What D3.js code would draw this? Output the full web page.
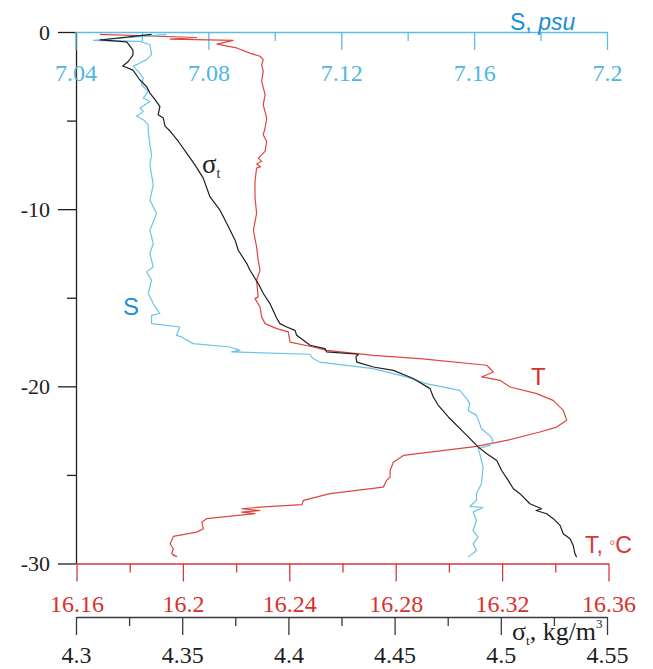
<!DOCTYPE html>
<html>
<head>
<meta charset="utf-8">
<script src="https://cdn.jsdelivr.net/npm/d3@7"></script>
<style>
  html, body { margin: 0; padding: 0; background: #fff; }
  svg { display: block; }
</style>
</head>
<body>
<svg id="chart" width="653" height="669"></svg>
<script>
// Depth profile: salinity, temperature and density (sigma-t) against depth.

// Tick values
const depthTicks = [0, -10, -20, -30];
const depthMinorTicks = [-5, -15, -25];
const salinityTicks = [7.04, 7.08, 7.12, 7.16, 7.2];
const salinityMinorTicks = [7.06, 7.10, 7.14, 7.18];
const tempTicks = [16.16, 16.2, 16.24, 16.28, 16.32, 16.36];
const tempMinorTicks = [16.18, 16.22, 16.26, 16.30, 16.34];
const sigmaTicks = [4.3, 4.35, 4.4, 4.45, 4.5, 4.55];
const sigmaMinorTicks = [4.325, 4.375, 4.425, 4.475, 4.525];

// Sigma-t profile (kg/m3)
const sigmaDepth = [-0.13,-0.45,-0.56,-1.02,-1.30,-1.68,-1.92,-2.15,-2.71,-3.09,
  -3.45,-3.82,-4.20,-4.67,-4.86,-5.31,-5.59,-6.18,-6.84,-7.50,
  -8.25,-9.31,-10.06,-10.81,-11.75,-12.32,-13.07,-13.45,-14.20,-14.76,
  -15.33,-16.16,-16.46,-16.65,-16.84,-17.12,-17.68,-17.87,-18.06,-18.19,
  -18.34,-18.63,-18.91,-19.10,-19.56,-20.13,-20.60,-21.07,-21.73,-22.39,
  -22.95,-23.43,-23.80,-24.18,-24.75,-25.31,-25.78,-26.06,-26.63,-26.91,
  -27.01,-27.19,-27.47,-27.85,-28.32,-28.60,-28.98,-29.45,-29.64];
const sigmaValues = [4.3356,4.3113,4.3239,4.3268,4.3268,4.3245,4.3220,4.3268,4.3301,4.3333,
  4.3348,4.3372,4.3395,4.3387,4.3411,4.3419,4.3443,4.3482,4.3521,4.3560,
  4.3599,4.3631,4.3678,4.3710,4.3749,4.3764,4.3804,4.3819,4.3858,4.3882,
  4.3913,4.3945,4.3960,4.3992,4.4031,4.4039,4.4102,4.4172,4.4180,4.4329,
  4.4318,4.4322,4.4400,4.4494,4.4588,4.4667,4.4682,4.4706,4.4753,4.4808,
  4.4855,4.4894,4.4934,4.4981,4.5004,4.5035,4.5059,4.5090,4.5137,4.5192,
  4.5166,4.5216,4.5247,4.5279,4.5294,4.5326,4.5341,4.5349,4.5357];

// Salinity profile (psu)
const salinityDepth = [-0.13,-0.47,-0.53,-0.72,-1.28,-1.56,-1.75,-1.94,-2.22,-2.60,
  -2.98,-3.35,-3.73,-3.92,-4.29,-4.48,-4.76,-4.95,-5.24,-5.61,
  -6.37,-6.93,-7.50,-8.06,-8.63,-9.49,-10.24,-11.19,-11.94,-12.50,
  -13.26,-13.54,-14.01,-14.76,-15.33,-15.89,-15.99,-16.46,-16.65,-17.12,
  -17.21,-17.59,-17.78,-17.97,-18.06,-18.19,-18.43,-18.63,-19.00,-19.47,
  -19.85,-20.23,-20.69,-20.98,-21.36,-21.64,-22.11,-22.39,-22.77,-23.05,
  -23.33,-23.52,-23.80,-24.56,-25.50,-26.06,-26.44,-26.78,-26.84,-27.10,
  -27.57,-28.14,-28.51,-28.89,-29.27,-29.64];
const salinityValues = [7.0674,7.0454,7.0594,7.0624,7.0629,7.0614,7.0594,7.0574,7.0589,7.0604,
  7.0599,7.0619,7.0604,7.0624,7.0594,7.0604,7.0584,7.0604,7.0619,7.0619,
  7.0624,7.0629,7.0624,7.0629,7.0634,7.0624,7.0644,7.0624,7.0634,7.0624,
  7.0634,7.0614,7.0629,7.0619,7.0634,7.0654,7.0629,7.0629,7.0714,7.0704,
  7.0719,7.0754,7.0865,7.0895,7.0870,7.1105,7.1115,7.1135,7.1296,7.1396,
  7.1456,7.1557,7.1577,7.1587,7.1582,7.1607,7.1617,7.1622,7.1647,7.1657,
  7.1647,7.1612,7.1617,7.1627,7.1622,7.1607,7.1607,7.1587,7.1627,7.1597,
  7.1607,7.1597,7.1612,7.1597,7.1607,7.1582];

// Temperature profile (deg C)
const tempDepth = [-0.13,-0.31,-0.40,-0.47,-0.68,-0.90,-1.19,-1.37,-1.56,-1.85,
  -2.22,-2.79,-3.54,-4.11,-4.86,-5.42,-5.80,-6.18,-6.74,-7.12,
  -7.30,-7.45,-7.60,-7.68,-8.44,-9.31,-10.24,-11.19,-12.13,-12.88,
  -13.45,-14.01,-14.95,-15.05,-15.52,-16.08,-16.46,-16.74,-16.93,-17.50,
  -17.78,-17.97,-18.25,-18.44,-18.81,-19.19,-19.47,-19.66,-20.04,-20.41,
  -20.79,-21.36,-21.92,-22.30,-22.58,-23.05,-23.39,-23.90,-24.28,-24.75,
  -25.12,-25.31,-25.69,-26.06,-26.44,-26.68,-26.82,-26.91,-27.01,-27.10,
  -27.19,-27.47,-27.67,-28.04,-28.23,-28.47,-28.70,-28.89,-29.17,-29.45,
  -29.60,-29.55];
const tempValues = [16.1688,16.2052,16.1952,16.2189,16.2128,16.2202,16.2252,16.2290,16.2302,16.2296,
  16.2302,16.2296,16.2309,16.2302,16.2315,16.2309,16.2302,16.2315,16.2309,16.2283,
  16.2296,16.2277,16.2292,16.2277,16.2271,16.2271,16.2277,16.2265,16.2277,16.2283,
  16.2290,16.2277,16.2283,16.2271,16.2290,16.2296,16.2309,16.2353,16.2396,16.2403,
  16.2490,16.2541,16.2716,16.2891,16.3142,16.3167,16.3123,16.3192,16.3230,16.3330,
  16.3392,16.3430,16.3443,16.3405,16.3342,16.3217,16.3105,16.2829,16.2791,16.2779,
  16.2779,16.2766,16.2753,16.2553,16.2453,16.2447,16.2290,16.2221,16.2290,16.2221,
  16.2271,16.2089,16.2071,16.2077,16.2052,16.1964,16.1958,16.1952,16.1964,16.1958,
  16.1977,16.1962];

const BLUE_AXIS = "#5bbce5", BLUE_LINE = "#6cc3e6", BLUE_TEXT = "#1a8fd6";
const RED_AXIS = "#d9363a", RED_LINE = "#e0453e";
const BLACK = "#1e1e1e";
const SERIF = "'Liberation Serif', 'Times New Roman', serif";
const SANS = "'Liberation Sans', Arial, sans-serif";

const svg = d3.select("#chart");

const y = d3.scaleLinear().domain([0, -30]).range([32, 563.5]);
const xS = d3.scaleLinear().domain([7.04, 7.2]).range([75.5, 607]);
const xT = d3.scaleLinear().domain([16.16, 16.36]).range([76.5, 608.5]);
const xSig = d3.scaleLinear().domain([4.3, 4.55]).range([76, 607]);

function styleAxis(g, color, textColor, fontSize, font) {
  g.selectAll("path.domain").attr("stroke", color).attr("stroke-width", 1.3);
  g.selectAll(".tick line").attr("stroke", color).attr("stroke-width", 1.3);
  g.selectAll(".tick text").attr("fill", textColor)
    .style("font-family", font).style("font-size", fontSize + "px");
}

// Horizontal axis with labelled major ticks and short unlabelled minor ticks, all pointing down
function hAxis(scale, yPos, major, minor, color, textColor, pad) {
  const gMaj = svg.append("g").attr("transform", `translate(0,${yPos})`)
    .call(d3.axisBottom(scale).tickValues(major).tickSize(18).tickSizeOuter(0)
      .tickPadding(pad).tickFormat(d => String(d)));
  styleAxis(gMaj, color, textColor, 24, SERIF);
  const gMin = svg.append("g").attr("transform", `translate(0,${yPos})`)
    .call(d3.axisBottom(scale).tickValues(minor).tickSize(9).tickSizeOuter(0).tickFormat(""));
  styleAxis(gMin, color, textColor, 24, SERIF);
  gMin.select("path.domain").remove();
}

// Depth axis
const gY = svg.append("g").attr("transform", "translate(76,0)")
  .call(d3.axisLeft(y).tickValues(depthTicks).tickSize(18).tickSizeOuter(0)
    .tickPadding(8).tickFormat(d => String(d)));
styleAxis(gY, BLACK, BLACK, 22, SERIF);
const gYm = svg.append("g").attr("transform", "translate(76,0)")
  .call(d3.axisLeft(y).tickValues(depthMinorTicks).tickSize(9).tickSizeOuter(0).tickFormat(""));
styleAxis(gYm, BLACK, BLACK, 22, SERIF);
gYm.select("path.domain").remove();

hAxis(xS, 32, salinityTicks, salinityMinorTicks, BLUE_AXIS, "#4fb6e2", 14);
hAxis(xT, 563.5, tempTicks, tempMinorTicks, RED_AXIS, "#d9302c", 13.5);
hAxis(xSig, 617, sigmaTicks, sigmaMinorTicks, "#3a3a3a", BLACK, 11);

// Profiles
function profile(depths, values, xScale, color) {
  const pts = depths.map((d, i) => [values[i], d]);
  svg.append("path")
    .datum(pts)
    .attr("fill", "none")
    .attr("stroke", color)
    .attr("stroke-width", 1.2)
    .attr("stroke-linejoin", "round")
    .attr("d", d3.line().x(p => xScale(p[0])).y(p => y(p[1])));
}
profile(tempDepth, tempValues, xT, RED_LINE);
profile(salinityDepth, salinityValues, xS, BLUE_LINE);
profile(sigmaDepth, sigmaValues, xSig, BLACK);

// Axis titles
const sTitle = svg.append("text").attr("x", 510).attr("y", 30)
  .attr("fill", BLUE_TEXT).style("font-family", SANS).style("font-size", "23px");
sTitle.append("tspan").text("S, ");
sTitle.append("tspan").attr("font-style", "italic").text("psu");

const tTitle = svg.append("text").attr("x", 585).attr("y", 553)
  .attr("fill", RED_AXIS).style("font-family", SANS).style("font-size", "23px");
tTitle.append("tspan").text("T,  ");
tTitle.append("tspan").attr("font-size", "17px").attr("dy", -5).text("\u25E6");
tTitle.append("tspan").attr("dy", 5).text("C");

const sigTitle = svg.append("text").attr("x", 512).attr("y", 640)
  .attr("fill", BLACK).style("font-family", SERIF).style("font-size", "26px");
sigTitle.append("tspan").text("\u03C3");
sigTitle.append("tspan").attr("font-size", "13px").attr("dy", 5).text("t");
sigTitle.append("tspan").attr("dy", -5).text(", kg/m");
sigTitle.append("tspan").attr("font-size", "13px").attr("dy", -12).text("3");

// Curve labels
svg.append("text").attr("x", 123).attr("y", 315).attr("fill", BLUE_TEXT)
  .style("font-family", SANS).style("font-size", "24px").text("S");
svg.append("text").attr("x", 531).attr("y", 385).attr("fill", "#d9302c")
  .style("font-family", SANS).style("font-size", "24px").text("T");
const sigLabel = svg.append("text").attr("x", 202).attr("y", 173).attr("fill", BLACK)
  .style("font-family", SERIF).style("font-size", "27px");
sigLabel.append("tspan").text("\u03C3");
sigLabel.append("tspan").attr("font-size", "14px").attr("dy", 5).text("t");
</script>
</body>
</html>
